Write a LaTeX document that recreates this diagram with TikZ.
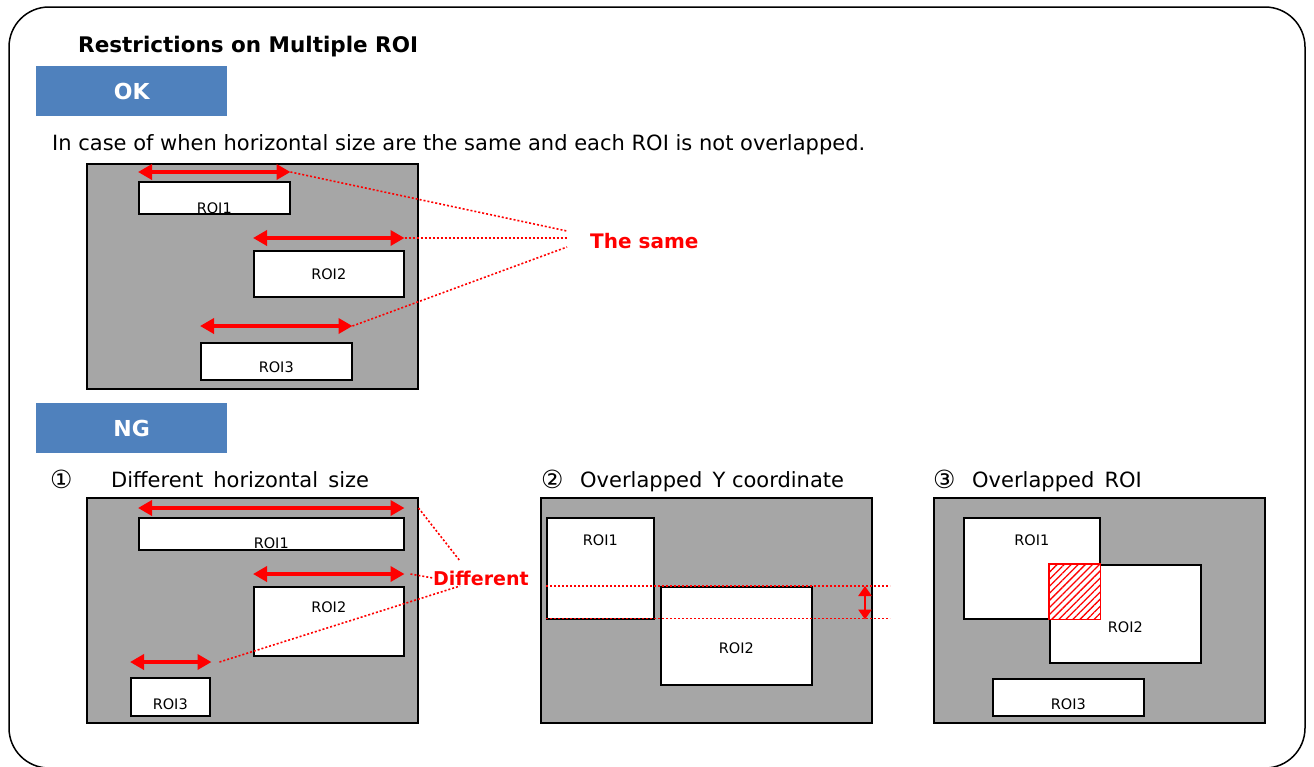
\documentclass[tikz,border=0pt]{standalone}
\usepackage{fontspec}
\setmainfont{DejaVu Sans}
\usetikzlibrary{arrows.meta,patterns.meta,calc,positioning}

\definecolor{tagblue}{RGB}{79,129,189}
\definecolor{areagray}{RGB}{166,166,166}

\tikzset{
  area/.style={draw=black, line width=1.5pt, fill=areagray, inner sep=0pt, anchor=north west},
  roi/.style={draw=black, line width=1.5pt, fill=white, inner sep=0pt, anchor=north west},
  roitext/.style={font=\fontsize{14.5}{16}\selectfont, inner sep=0pt, anchor=center},
  tag/.style={fill=tagblue, text=white, font=\fontsize{22}{26}\selectfont\bfseries,
    minimum width=191, minimum height=50, inner sep=0pt, anchor=north west},
  size arrow/.style={red, line width=3.5pt, {Triangle[length=14pt,width=15pt]}-{Triangle[length=14pt,width=15pt]}},
  guide/.style={red, dash pattern=on 2pt off 2pt, line width=1.6pt},
  remark/.style={red, font=\fontsize{20}{24}\selectfont\bfseries, inner sep=0pt, anchor=west},
  caption/.style={font=\fontsize{21}{25}\selectfont, inner sep=0pt, anchor=base west},
  number/.style={font=\fontsize{25}{28}\selectfont, inner sep=0pt, anchor=base west},
}

\begin{document}
\begin{tikzpicture}[x=1pt,y=-1pt]
\useasboundingbox (0,0) rectangle (1314,766);
\draw [line width=1.5pt, rounded corners=40pt] (9,7) rectangle (1305,768);

\node [caption, font=\fontsize{21.5}{25}\selectfont\bfseries] (title) at (78,52) {Restrictions on Multiple ROI};

% OK case
\node [tag] (ok) at (36,66) {OK};
\node [caption] (okcap) at (52,150) {In case of when horizontal size are the same and each ROI is not overlapped.};

\node [area, minimum width=331, minimum height=225] (okarea) at (86,163) {};
\node [roi, minimum width=151, minimum height=32, label={[roitext, yshift=6]south:ROI1}] (okA) at (138,181) {};
\node [roi, minimum width=150, minimum height=46, label={[roitext]center:ROI2}] (okB) at (253,250) {};
\node [roi, minimum width=151, minimum height=37, label={[roitext, yshift=13]south:ROI3}] (okC) at (200,342) {};

\draw [size arrow] ($(okA.north west)+(0,-9)$) coordinate (okAl) -- ($(okA.north east)+(0,-9)$) coordinate (okAr);
\draw [size arrow] ($(okB.north west)+(0,-12)$) coordinate (okBl) -- ($(okB.north east)+(0,-12)$) coordinate (okBr);
\draw [size arrow] ($(okC.north west)+(0,-16)$) coordinate (okCl) -- ($(okC.north east)+(0,-16)$) coordinate (okCr);

\node [remark] (same) at (590,241) {The same};
\draw [guide] (okAr) -- ([xshift=-23pt, yshift=10pt]same.west);
\draw [guide] (okBr) -- ([xshift=-23pt, yshift=3pt]same.west);
\draw [guide] (okCr) -- ([xshift=-23pt, yshift=-6pt]same.west);

% NG cases
\node [tag] (ng) at (36,403) {NG};
\node [number] (numA) at (50,488) {①};
\node [caption] (capA) at (111,487) {Different\, horizontal\, size};
\node [number] (numB) at (541,488) {②};
\node [caption] (capB) at (580,487) {Overlapped\, Y coordinate};
\node [number] (numC) at (933,488) {③};
\node [caption] (capC) at (972,487) {Overlapped\, ROI};

% 1: different horizontal size
\node [area, minimum width=331, minimum height=225] (areaA) at (86,497) {};
\node [roi, minimum width=265, minimum height=32, label={[roitext, yshift=7]south:ROI1}] (aR1) at (138,517) {};
\node [roi, minimum width=150, minimum height=69, label={[roitext, yshift=-21]north:ROI2}] (aR2) at (253,586) {};
\node [roi, minimum width=79, minimum height=38, label={[roitext, yshift=12]south:ROI3}] (aR3) at (130,677) {};

\draw [size arrow] ($(aR1.north west)+(0,-9)$) coordinate (aR1l) -- ($(aR1.north east)+(0,-9)$) coordinate (aR1r);
\draw [size arrow] ($(aR2.north west)+(0,-12)$) coordinate (aR2l) -- ($(aR2.north east)+(0,-12)$) coordinate (aR2r);
\draw [size arrow] ($(aR3.north west)+(0,-15)$) coordinate (aR3l) -- ($(aR3.north east)+(1,-15)$) coordinate (aR3r);

\node [remark, font=\fontsize{19}{23}\selectfont\bfseries] (diff) at (433,578) {Different};
\draw [guide] ($(aR1r)+(14,0)$) -- ([xshift=27pt, yshift=17pt]diff.west);
\draw [guide] ($(aR2r)+(6,0)$) -- (diff.west);
\draw [guide] ($(aR3r)+(8,0)$) -- ([xshift=27pt, yshift=-8pt]diff.west);

% 2: overlapped Y coordinate
\node [area, minimum width=331, minimum height=225] (areaB) at (540,497) {};
\node [roi, minimum width=107, minimum height=101, label={[roitext, yshift=-23]north:ROI1}] (bR1) at (546,517) {};
\node [roi, minimum width=151, minimum height=98, label={[roitext, yshift=-12]center:ROI2}] (bR2) at (660,586) {};

\coordinate (bGuide) at (890,0);
\coordinate (bMark) at (865,0);
\draw [guide] (bR1.west |- bR2.north) -- (bGuide |- bR2.north);
\draw [guide] ([yshift=1pt]bR1.south west) -- ([yshift=1pt]bGuide |- bR1.south);
\draw [red, line width=2.5pt, {Triangle[length=10pt,width=13pt]}-{Triangle[length=10pt,width=13pt]}] (bMark |- bR2.north) -- (bMark |- bR1.south);

% 3: overlapped ROI
\node [area, minimum width=331, minimum height=225] (areaC) at (933,497) {};
\node [roi, minimum width=136, minimum height=101, label={[roitext, yshift=-23]north:ROI1}] (cR1) at (963,517) {};
\node [roi, minimum width=151, minimum height=98, label={[roitext, yshift=-63]north:ROI2}] (cR2) at (1049,564) {};
\node [roi, minimum width=151, minimum height=37, label={[roitext, yshift=12]south:ROI3}] (cR3) at (992,678) {};

\fill [white] (cR2.north west) rectangle (cR1.south east);
\fill [pattern={Lines[angle=45, distance=5pt, line width=1.3pt]}, pattern color=red] (cR2.north west) rectangle (cR1.south east);
\draw [red, line width=1.5pt] (cR2.north west) rectangle (cR1.south east);
\end{tikzpicture}
\end{document}
